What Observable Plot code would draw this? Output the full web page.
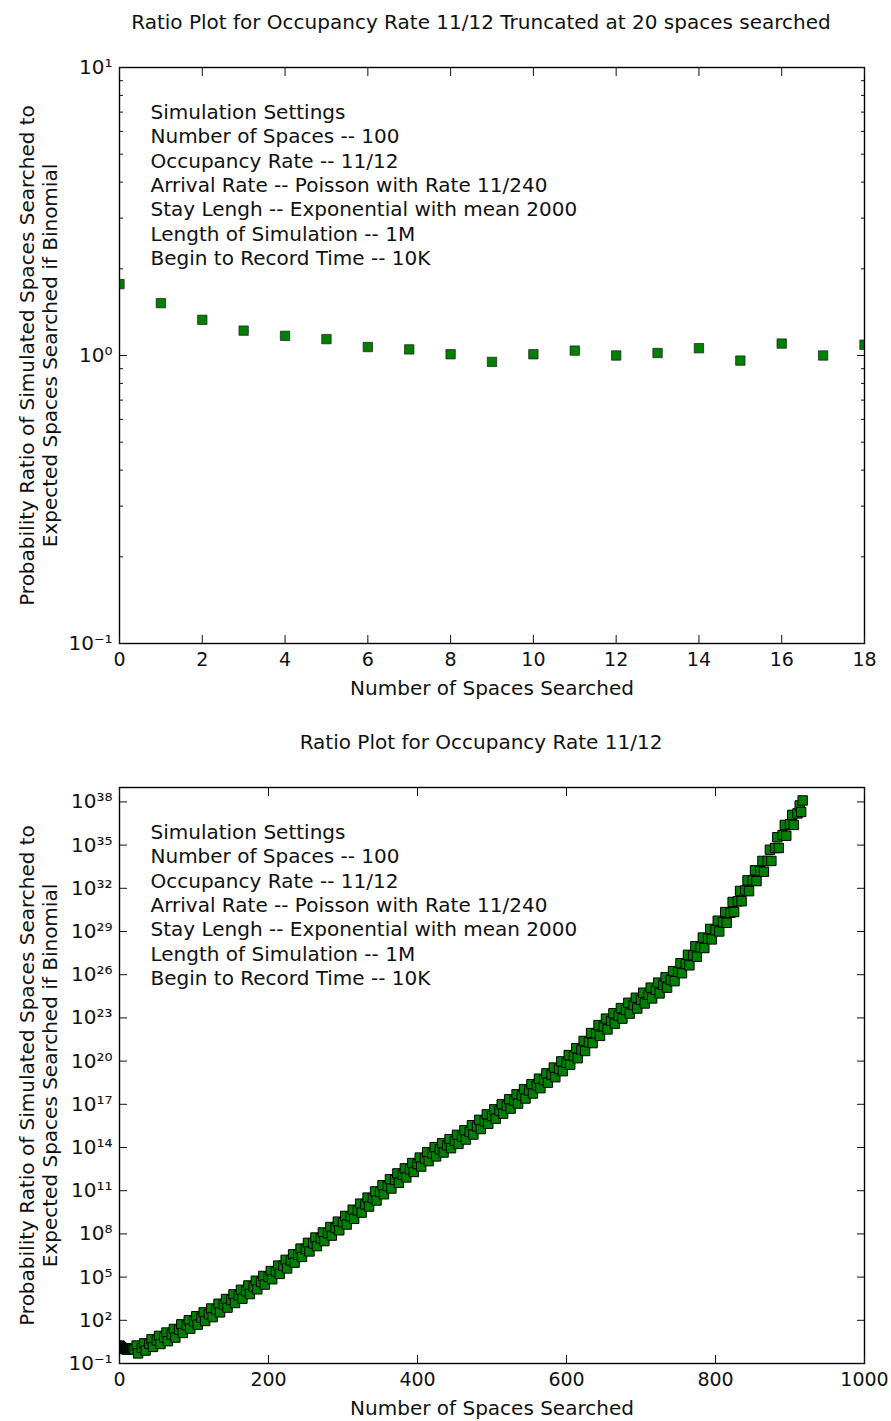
<!DOCTYPE html>
<html>
<head>
<meta charset="utf-8">
<script src="https://cdn.jsdelivr.net/npm/d3@7"></script>
<script src="https://cdn.jsdelivr.net/npm/@observablehq/plot@0.6"></script>
<style>
  body { margin: 0; background: white; }
  #chart svg { display: block; }
</style>
</head>
<body>
<div id="chart"></div>
<script>
// ---------- Data ----------
const topTitle = "Ratio Plot for Occupancy Rate 11/12 Truncated at 20 spaces searched";
const bottomTitle = "Ratio Plot for Occupancy Rate 11/12";
const xLabel = "Number of Spaces Searched";
const yLabel = "Probability Ratio of Simulated Spaces Searched to\nExpected Spaces Searched if Binomial";
const settingsLines = [
  "Simulation Settings",
  "Number of Spaces -- 100",
  "Occupancy Rate -- 11/12",
  "Arrival Rate -- Poisson with Rate 11/240",
  "Stay Lengh -- Exponential with mean 2000",
  "Length of Simulation -- 1M",
  "Begin to Record Time -- 10K"
];

// Top chart (truncated at 20 spaces)
const topSpaces = [0, 1, 2, 3, 4, 5, 6, 7, 8, 9, 10, 11, 12, 13, 14, 15, 16, 17, 18];
const topRatio  = [1.77, 1.52, 1.33, 1.22, 1.17, 1.14, 1.07, 1.05, 1.01, 0.95, 1.01, 1.04, 1.00, 1.02, 1.06, 0.96, 1.10, 1.00, 1.09];
const topXTicks = [0, 2, 4, 6, 8, 10, 12, 14, 16, 18];
const topYExponents = [-1, 0, 1];
const topYMinor = [0.2, 0.3, 0.4, 0.5, 0.6, 0.7, 0.8, 0.9, 2, 3, 4, 5, 6, 7, 8, 9];

// Bottom chart (full range) - log10 of the ratio
// band centre
const fullSpacesA = [20, 30, 40, 50, 60, 70, 80, 90, 100, 110, 120, 130, 140, 150, 160, 170, 180, 190,
  200, 210, 220, 230, 240, 250, 260, 270, 280, 290, 300, 310, 320, 330, 340, 350, 360, 370, 380, 390,
  400, 410, 420, 430, 440, 450, 460, 470, 480, 490, 500, 510, 520, 530, 540, 550, 560, 570, 580, 590,
  600, 610, 620, 630, 640, 650, 660, 670, 680, 690, 700, 710, 720, 730, 740, 750, 760, 770, 780, 790,
  800, 810, 820, 830, 840, 850, 860, 870, 880, 890, 900, 910, 917];
const fullLogA = [-0.02, 0.08, 0.38, 0.60, 0.80, 1.00, 1.35, 1.65, 1.92, 2.18, 2.42, 2.75, 3.08, 3.40, 3.72, 4.02, 4.33, 4.66,
  5.00, 5.38, 5.78, 6.15, 6.55, 6.95, 7.33, 7.68, 8.05, 8.40, 8.80, 9.22, 9.62, 10.05, 10.48, 10.90, 11.32, 11.75, 12.10, 12.48,
  12.85, 13.22, 13.58, 13.88, 14.15, 14.45, 14.75, 15.08, 15.45, 15.82, 16.18, 16.55, 16.90, 17.25, 17.60, 17.95, 18.30, 18.68, 19.05, 19.45,
  19.88, 20.35, 20.80, 21.30, 21.90, 22.40, 22.80, 23.15, 23.55, 23.90, 24.25, 24.60, 24.95, 25.30, 25.65, 26.20, 26.75, 27.35, 27.90, 28.50,
  29.10, 29.65, 30.30, 31.10, 31.85, 32.55, 33.20, 33.90, 34.80, 35.70, 36.45, 37.20, 38.10];
// lower-right edge of the band
const fullSpacesB = [25, 35, 45, 55, 65, 75, 85, 95, 105, 115, 125, 135, 145, 155, 165, 175, 185, 195,
  205, 215, 225, 235, 245, 255, 265, 275, 285, 295, 305, 315, 325, 335, 345, 355, 365, 375, 385, 395,
  405, 415, 425, 435, 445, 455, 465, 475, 485, 495, 505, 515, 525, 535, 545, 555, 565, 575, 585, 595,
  605, 615, 625, 635, 645, 655, 665, 675, 685, 695, 705, 715, 725, 735, 745, 755, 765, 775, 785, 795,
  805, 815, 825, 835, 845, 855, 865, 875, 885, 895, 905, 915];
const fullLogB = [-0.30, -0.10, 0.15, 0.35, 0.55, 0.80, 1.12, 1.42, 1.70, 1.95, 2.22, 2.55, 2.88, 3.20, 3.50, 3.82, 4.15, 4.48,
  4.85, 5.22, 5.60, 6.00, 6.40, 6.78, 7.15, 7.50, 7.88, 8.25, 8.65, 9.05, 9.48, 9.90, 10.32, 10.75, 11.15, 11.55, 11.92, 12.30,
  12.68, 13.05, 13.38, 13.65, 13.95, 14.25, 14.55, 14.90, 15.28, 15.65, 16.00, 16.35, 16.70, 17.05, 17.40, 17.75, 18.12, 18.50, 18.88, 19.30,
  19.75, 20.20, 20.70, 21.25, 21.75, 22.20, 22.60, 22.95, 23.30, 23.65, 24.00, 24.35, 24.70, 25.10, 25.55, 26.10, 26.65, 27.25, 27.85, 28.45,
  29.00, 29.60, 30.35, 31.10, 31.80, 32.50, 33.15, 33.90, 34.80, 35.65, 36.40, 37.30];
// upper-left edge of the band
const fullSpacesC = [23, 33, 43, 53, 63, 73, 83, 93, 103, 113, 123, 133, 143, 153, 163, 173, 183, 193,
  203, 213, 223, 233, 243, 253, 263, 273, 283, 293, 303, 313, 323, 333, 343, 353, 363, 373, 383, 393,
  403, 413, 423, 433, 443, 453, 463, 473, 483, 493, 503, 513, 523, 533, 543, 553, 563, 573, 583, 593,
  603, 613, 623, 633, 643, 653, 663, 673, 683, 693, 703, 713, 723, 733, 743, 753, 763, 773, 783, 793,
  803, 813, 823, 833, 843, 853, 863, 873, 883, 893, 903, 913];
const fullLogC = [0.25, 0.40, 0.68, 0.92, 1.15, 1.40, 1.72, 2.00, 2.28, 2.55, 2.82, 3.15, 3.48, 3.80, 4.12, 4.42, 4.75, 5.08,
  5.42, 5.80, 6.20, 6.58, 6.98, 7.38, 7.75, 8.10, 8.48, 8.85, 9.25, 9.68, 10.10, 10.52, 10.95, 11.38, 11.80, 12.20, 12.55, 12.92,
  13.30, 13.68, 14.02, 14.30, 14.58, 14.88, 15.20, 15.55, 15.92, 16.30, 16.65, 17.00, 17.35, 17.70, 18.05, 18.40, 18.78, 19.15, 19.55, 19.98,
  20.42, 20.90, 21.40, 21.95, 22.50, 22.95, 23.32, 23.68, 24.05, 24.40, 24.75, 25.10, 25.45, 25.82, 26.25, 26.80, 27.38, 27.98, 28.58, 29.18,
  29.75, 30.35, 31.05, 31.82, 32.55, 33.25, 33.90, 34.68, 35.55, 36.40, 37.10, 37.75];
const fullXTicks = [0, 200, 400, 600, 800, 1000];
const fullYExponents = [-1, 2, 5, 8, 11, 14, 17, 20, 23, 26, 29, 32, 35, 38];

// ---------- Helpers ----------
const SUP = {"0":"⁰","1":"¹","2":"²","3":"³","4":"⁴","5":"⁵","6":"⁶","7":"⁷","8":"⁸","9":"⁹","-":"⁻"};
const powLabel = e => "10" + String(e).split("").map(c => SUP[c]).join("");

const FONT = "DejaVu Sans, sans-serif";
const GREEN = "#008000";
const FS = 20;

function makeChart({title, data, xDomain, xTicks, yDomain, yExps, yMinor, height, markerStroke, markerStrokeWidth}) {
  const frameH = 576;
  const marginTop = 67;
  const majorVals = yExps.map(e => Math.pow(10, e));
  const expOf = new Map(majorVals.map((v, i) => [v, yExps[i]]));
  const marks = [
    Plot.dot(data, {x: "x", y: "y", symbol: "square", r: 5.3, fill: GREEN, stroke: markerStroke,
      strokeWidth: markerStrokeWidth, clip: true}),
    Plot.frame({stroke: "#000", strokeWidth: 1.4}),
    Plot.axisX({anchor: "bottom", ticks: xTicks, tickSize: -8, tickPadding: 17, label: null, fontSize: 19,
      tickFormat: d => String(d)}),
    Plot.axisX({anchor: "top", ticks: xTicks, tickSize: -8, tickFormat: () => "", label: null}),
    Plot.axisY({anchor: "left", ticks: majorVals, tickSize: -8, tickPadding: 15, label: null, fontSize: 20,
      tickFormat: v => powLabel(expOf.get(v))}),
    Plot.axisY({anchor: "right", ticks: majorVals, tickSize: -8, tickFormat: () => "", label: null}),
    Plot.text([title], {frameAnchor: "top", dy: -53, dx: -11, fontSize: FS, text: d => d}),
    Plot.text([xLabel], {frameAnchor: "bottom", dy: 51, fontSize: FS, text: d => d}),
    Plot.text([yLabel], {frameAnchor: "left", dx: -81, rotate: -90, fontSize: FS, lineHeight: 1.15,
      textAnchor: "middle", lineAnchor: "middle", text: d => d}),
    Plot.text([settingsLines.join("\n")], {frameAnchor: "top-left", dx: 31, dy: 34, fontSize: FS, lineHeight: 1.22,
      textAnchor: "start", lineAnchor: "top", text: d => d})
  ];
  if (yMinor) {
    marks.push(Plot.axisY({anchor: "left", ticks: yMinor, tickSize: -4, tickFormat: () => "", label: null}));
    marks.push(Plot.axisY({anchor: "right", ticks: yMinor, tickSize: -4, tickFormat: () => "", label: null}));
  }
  return Plot.plot({
    width: 891,
    height,
    marginTop,
    marginLeft: 119,
    marginRight: 27,
    marginBottom: height - marginTop - frameH,
    style: {fontFamily: FONT, fontSize: "19px", color: "#111", background: "white", overflow: "visible"},
    x: {domain: xDomain},
    y: {type: "log", domain: yDomain},
    marks
  });
}

const topData = topSpaces.map((x, i) => ({x, y: topRatio[i]}));
const fullData = [
  ...topData,
  ...fullSpacesA.map((x, i) => ({x, y: Math.pow(10, fullLogA[i])})),
  ...fullSpacesB.map((x, i) => ({x, y: Math.pow(10, fullLogB[i])})),
  ...fullSpacesC.map((x, i) => ({x, y: Math.pow(10, fullLogC[i])}))
].sort((a, b) => a.x - b.x);

const chart = document.getElementById("chart");
chart.append(makeChart({
  title: topTitle, data: topData, xDomain: [0, 18], xTicks: topXTicks,
  yDomain: [0.1, 10], yExps: topYExponents, yMinor: topYMinor, height: 720,
  markerStroke: "#1a1a1a", markerStrokeWidth: 0.7
}));
chart.append(makeChart({
  title: bottomTitle, data: fullData, xDomain: [0, 1000], xTicks: fullXTicks,
  yDomain: [0.1, 1e39], yExps: fullYExponents, yMinor: null, height: 701,
  markerStroke: "#000", markerStrokeWidth: 1
}));
</script>
</body>
</html>
